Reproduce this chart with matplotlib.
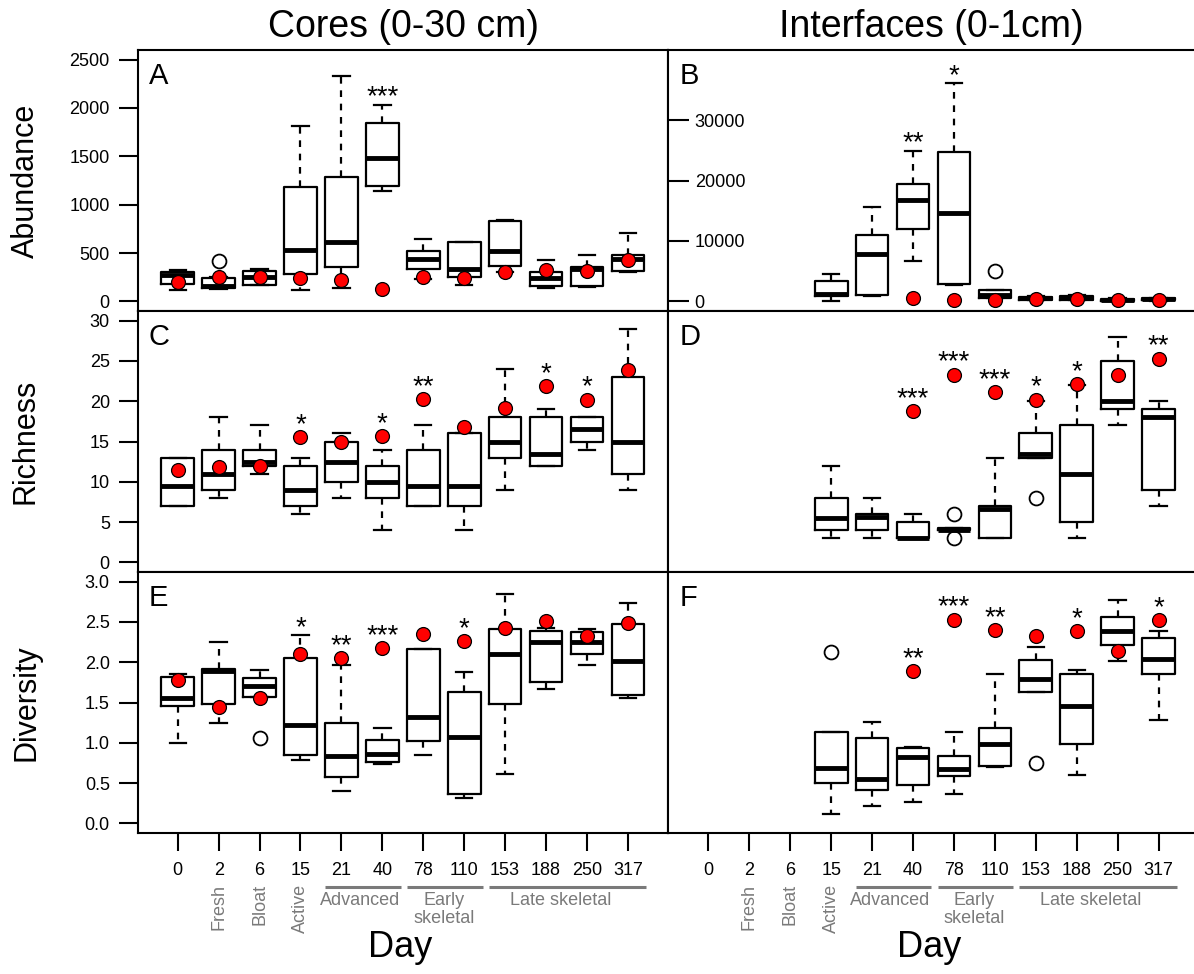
import numpy as np
import matplotlib.pyplot as plt
from matplotlib import transforms

plt.rcParams['font.family'] = ['Liberation Sans', 'DejaVu Sans']

days = ['0', '2', '6', '15', '21', '40', '78', '110', '153', '188', '250', '317']

# box stats per day: (whisker low, Q1, median, Q3, whisker high); None = no sample
# --- Cores, abundance (A)
core_abund = [(121, 183, 276, 304, 328), (130, 138, 155, 242, 250), (165, 172, 252, 317, 330),
              (121, 283, 535, 1180, 1817), (138, 352, 614, 1287, 2328), (1145, 1190, 1483, 1845, 2035),
              (230, 335, 442, 517, 645), (166, 249, 330, 614, 614), (300, 362, 517, 835, 840),
              (138, 162, 240, 304, 424), (145, 155, 335, 352, 483), (300, 310, 442, 476, 707)]
core_abund_out = [[], [421], [], [], [], [], [], [], [], [], [], []]
core_abund_red = [200, 249, 249, 242, 224, 128, 252, 242, 304, 328, 318, 431]
core_abund_sig = ['', '', '', '', '', '***', '', '', '', '', '', '']

# --- Interfaces, abundance (B)
int_abund = [None, None, None,
             (100, 830, 1275, 3380, 4490), (900, 1000, 7820, 10980, 15690),
             (6710, 11920, 16800, 19460, 24950), (2700, 2940, 14580, 24680, 36100),
             (500, 555, 1000, 1830, 1900), (150, 300, 500, 700, 900),
             (200, 300, 600, 900, 1000), (50, 100, 250, 400, 500), (100, 200, 350, 500, 600)]
int_abund_out = [[], [], [], [], [], [], [], [4990], [], [], [], []]
int_abund_red = [np.nan, np.nan, np.nan, np.nan, np.nan, 555, 280, 280, 445, 445, 280, 280]
int_abund_sig = ['', '', '', '', '', '**', '*', '', '', '', '', '']

# --- Cores, richness (C)
core_rich = [(7, 7, 9.5, 13, 13), (8, 9, 11, 14, 18), (11, 12, 12.5, 14, 17),
             (6, 7, 9, 12, 13), (8, 10, 12.5, 15, 16), (4, 8, 10, 12, 14),
             (7, 7, 9.5, 14, 17), (4, 7, 9.5, 16, 16), (9, 13, 15, 18, 24),
             (12, 12, 13.5, 18, 19), (14, 15, 16.5, 18, 18), (9, 11, 15, 23, 29)]
core_rich_out = [[] for _ in days]
core_rich_red = [11.5, 11.8, 12, 15.5, 15, 15.7, 20.3, 16.85, 19.2, 21.9, 20.2, 23.9]
core_rich_sig = ['', '', '', '*', '', '*', '**', '', '', '*', '*', '']

# --- Interfaces, richness (D)
int_rich = [None, None, None,
            (3, 4, 5.5, 8, 12), (3, 4, 5.6, 6, 8), (3, 3, 3, 5, 6),
            (4, 4, 4, 4.3, 4.3), (3, 3, 6.6, 7, 13), (13, 13, 13.4, 16, 20),
            (3, 5, 11, 17, 22), (17, 19, 20, 25, 28), (7, 9, 18, 19, 20)]
int_rich_out = [[], [], [], [], [], [], [6, 3], [], [8], [], [], []]
int_rich_red = [np.nan, np.nan, np.nan, np.nan, np.nan, 18.8, 23.3, 21.1, 20.2, 22.1, 23.2, 25.3]
int_rich_sig = ['', '', '', '', '', '***', '***', '***', '*', '*', '', '**']

# --- Cores, diversity (E)
core_div = [(1.0, 1.46, 1.56, 1.82, 1.85), (1.24, 1.48, 1.89, 1.92, 2.25), (1.57, 1.57, 1.71, 1.81, 1.90),
            (0.79, 0.85, 1.22, 2.05, 2.34), (0.40, 0.57, 0.84, 1.24, 1.96), (0.74, 0.76, 0.86, 1.03, 1.18),
            (0.85, 1.02, 1.32, 2.16, 2.16), (0.32, 0.36, 1.07, 1.63, 1.88), (0.61, 1.48, 2.10, 2.41, 2.85),
            (1.67, 1.76, 2.25, 2.39, 2.42), (1.96, 2.10, 2.25, 2.37, 2.41), (1.55, 1.59, 2.01, 2.48, 2.74)]
core_div_out = [[], [], [1.06], [], [], [], [], [], [], [], [], []]
core_div_red = [1.78, 1.45, 1.55, 2.1, 2.05, 2.18, 2.35, 2.26, 2.43, 2.51, 2.32, 2.49]
core_div_sig = ['', '', '', '*', '**', '***', '', '*', '', '', '', '']

# --- Interfaces, diversity (F)
int_div = [None, None, None,
           (0.12, 0.50, 0.69, 1.14, 1.14), (0.21, 0.41, 0.55, 1.06, 1.26), (0.27, 0.47, 0.82, 0.94, 0.95),
           (0.36, 0.59, 0.68, 0.84, 1.14), (0.70, 0.71, 0.99, 1.18, 1.85), (1.63, 1.63, 1.79, 2.03, 2.19),
           (0.60, 0.98, 1.46, 1.85, 1.90), (2.01, 2.22, 2.39, 2.56, 2.77), (1.28, 1.85, 2.04, 2.30, 2.39)]
int_div_out = [[], [], [], [2.13], [], [], [], [], [0.75], [], [], []]
int_div_red = [np.nan, np.nan, np.nan, np.nan, np.nan, 1.89, 2.53, 2.40, 2.32, 2.39, 2.14, 2.52]
int_div_sig = ['', '', '', '', '', '**', '***', '**', '', '*', '', '*']

stage_rot = [(2, 'Fresh'), (3, 'Bloat'), (4, 'Active')]
stage_grp = [(5, 6, 5.45, 'Advanced'), (7, 8, 7.5, 'Early\nskeletal'), (9, 12, 10.35, 'Late skeletal')]

W, H = 1194, 974
fig = plt.figure(figsize=(W / 100, H / 100), dpi=100)
GRAY = '#7a7a7a'


def add_ax(left, top, w=530.4, h=261):
    return fig.add_axes([left / W, 1 - (top + h) / H, w / W, h / H])


def draw(ax, boxes, outs, red, sig):
    stats, pos = [], []
    for i, b in enumerate(boxes):
        if b is None:
            continue
        lo, q1, med, q3, hi = b
        stats.append(dict(whislo=lo, q1=q1, med=med, q3=q3, whishi=hi, fliers=outs[i]))
        pos.append(i + 1)
    ax.bxp(stats, positions=pos, widths=0.8, capwidths=0.4, showfliers=True,
           boxprops=dict(color='black', lw=1.6),
           whiskerprops=dict(color='black', lw=1.6, ls=(0, (3, 3))),
           capprops=dict(color='black', lw=1.6),
           medianprops=dict(color='black', lw=3.5, solid_capstyle='butt'),
           flierprops=dict(marker='o', mfc='white', mec='black', ms=10, mew=1.3))
    x = np.arange(1, len(days) + 1)
    ax.plot(x, red, 'o', ms=10, mfc='red', mec='black', mew=0.9, zorder=5)
    for i, s in enumerate(sig):
        if not s:
            continue
        hi = boxes[i][4]
        if red[i] >= hi:
            anchor, off = red[i], 5
        else:
            anchor, off = hi, 0
        ax.annotate(s, (i + 1, anchor), xytext=(0, off), textcoords='offset pixels',
                    ha='center', va='baseline', fontsize=20, zorder=6)
    ax.set_xlim(0.02, 12.98)
    for sp in ax.spines.values():
        sp.set_linewidth(1.5)
    ax.tick_params(axis='x', bottom=False, labelbottom=False)


panels = [
    (137.6, 50, core_abund, core_abund_out, core_abund_red, core_abund_sig, 'A'),
    (668.3, 50, int_abund, int_abund_out, int_abund_red, int_abund_sig, 'B'),
    (137.6, 311, core_rich, core_rich_out, core_rich_red, core_rich_sig, 'C'),
    (668.3, 311, int_rich, int_rich_out, int_rich_red, int_rich_sig, 'D'),
    (137.6, 572, core_div, core_div_out, core_div_red, core_div_sig, 'E'),
    (668.3, 572, int_div, int_div_out, int_div_red, int_div_sig, 'F'),
]
ylims = {'A': (-100, 2600), 'B': (-1600, 41600), 'C': (-1.2, 31.2), 'D': (-1.2, 31.2),
         'E': (-0.12, 3.12), 'F': (-0.12, 3.12)}

axes = {}
for left, top, boxes, outs, red, sig, letter in panels:
    ax = add_ax(left, top)
    draw(ax, boxes, outs, red, sig)
    ax.set_ylim(*ylims[letter])
    ax.text(11.4 / 530.4, 1 - 34 / 261, letter, transform=ax.transAxes, fontsize=21, va='baseline')
    axes[letter] = ax

# y axes
axes['A'].set_yticks([0, 500, 1000, 1500, 2000, 2500])
axes['C'].set_yticks([0, 5, 10, 15, 20, 25, 30])
axes['E'].set_yticks([0, 0.5, 1, 1.5, 2, 2.5, 3])
axes['E'].set_yticklabels(['0.0', '0.5', '1.0', '1.5', '2.0', '2.5', '3.0'])
for k in 'ACE':
    axes[k].tick_params(axis='y', length=14, width=1.5, pad=6, labelsize=13)
for k in 'DF':
    axes[k].tick_params(axis='y', left=False, labelleft=False)
    axes[k].spines['right'].set_visible(False)
axes['B'].spines['right'].set_visible(False)
axes['B'].set_yticks([0, 10000, 20000, 30000])
axes['B'].tick_params(axis='y', direction='in', length=15, width=1.5, pad=-19, labelsize=13)
for lbl in axes['B'].get_yticklabels():
    lbl.set_horizontalalignment('left')

# bottom x axes and stage annotations
for k in 'EF':
    ax = axes[k]
    ax.set_xticks(np.arange(1, len(days) + 1))
    ax.set_xticklabels(days)
    ax.tick_params(axis='x', bottom=True, labelbottom=True, length=13, width=1.5, pad=8, labelsize=13)
    tr = transforms.blended_transform_factory(ax.transData, fig.transFigure)
    for p, name in stage_rot:
        ax.text(p, 1 - 884 / H, name, rotation=90, ha='center', va='top', color=GRAY,
                fontsize=13, transform=tr)
    for a, b, c, name in stage_grp:
        ax.plot([a - 0.4, b + 0.45], [1 - 887 / H] * 2, color=GRAY, lw=2.2,
                transform=tr, clip_on=False, solid_capstyle='butt')
        ax.text(c, 1 - 892 / H, name, ha='center', va='top', color=GRAY, fontsize=13,
                linespacing=1.1, transform=tr)
    cx = (137.6 + 263) if k == 'E' else (668.3 + 261)
    fig.text(cx / W, 1 - 957 / H, 'Day', ha='center', va='baseline', fontsize=26)

fig.text(403 / W, 1 - 37 / H, 'Cores (0-30 cm)', ha='center', va='baseline', fontsize=27)
fig.text(931 / W, 1 - 37 / H, 'Interfaces (0-1cm)', ha='center', va='baseline', fontsize=27)
for name, yc in [('Abundance', 180.5), ('Richness', 441.5), ('Diversity', 702.5)]:
    fig.text(26 / W, 1 - yc / H, name, rotation=90, ha='center', va='center', fontsize=22)

fig.savefig('out.png', dpi=100)
